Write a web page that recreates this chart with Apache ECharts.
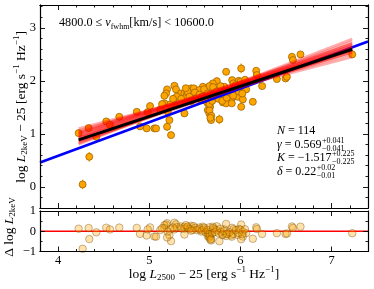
<!DOCTYPE html>
<html><head><meta charset="utf-8">
<script src="https://cdn.jsdelivr.net/npm/echarts@6/dist/echarts.min.js"></script>
<style>html,body{margin:0;padding:0;background:#fff}#c{width:374px;height:289px}</style>
</head><body><div id="c"></div>
<script>
// ---- data ----
const logL2500 = [4.224,4.334,4.418,4.527,4.568,4.670,4.862,4.898,4.971,5.008,4.982,4.341,4.268,
5.275,5.195,5.184,5.293,5.165,5.348,5.385,5.414,5.458,5.488,5.165,5.275,5.231,5.121,5.385,5.477,5.385,5.202,5.220,5.055,5.074,5.238,5.195,
5.843,6.008,6.173,6.180,5.909,5.923,5.982,5.824,5.741,5.697,5.659,5.587,5.549,6.026,6.063,5.604,5.714,5.788,5.862,5.898,5.971,6.026,5.807,5.843,5.905,5.642,5.642,5.667,5.642,5.659,5.678,5.769,6.136,6.008,5.568,
7.227,6.659,6.565,6.576,6.400,6.495,6.510,6.238,
5.30,5.35,5.42,5.44,5.50,5.52,5.55,5.58,5.60,5.62,5.64,5.66,5.66,5.68,5.69,5.70,5.72,5.74,5.76,5.78,5.80,5.82,5.85,5.88,5.92,5.95,5.98,6.00,6.02,5.26,5.14,5.46,5.40,5.67,6.05];
const logL2keV = [1.013,1.108,0.943,1.234,1.170,1.321,1.415,1.140,1.102,1.523,1.409,0.566,0.045,
1.906,1.838,1.762,1.838,1.717,1.762,1.762,1.749,1.857,1.857,1.574,1.574,1.555,1.460,1.668,1.668,1.385,1.415,1.258,1.102,1.102,0.975,1.132,
2.170,2.234,2.189,2.108,2.013,1.951,2.000,1.887,1.994,1.951,1.900,1.887,1.825,1.887,1.838,1.762,1.825,1.730,1.698,1.636,1.698,1.649,1.592,1.574,1.574,1.668,1.574,1.509,1.447,1.385,1.258,1.272,1.604,1.509,1.636,
2.498,2.498,2.453,2.391,2.032,2.045,2.075,1.900,
1.70,1.66,1.80,1.70,1.78,1.68,1.74,1.70,1.84,1.62,1.76,1.56,1.44,1.34,1.62,1.88,1.70,1.80,1.66,1.90,1.62,1.80,1.68,1.78,1.72,1.92,1.80,1.98,1.76,1.66,1.56,1.62,1.86,1.30,2.02];
const errL2keV = [0.04,0.04,0.04,0.04,0.04,0.04,0.04,0.04,0.04,0.04,0.04,0.09,0.09,
0.04,0.04,0.04,0.04,0.04,0.04,0.04,0.04,0.04,0.04,0.04,0.04,0.04,0.04,0.04,0.04,0.04,0.04,0.04,0.04,0.04,0.04,0.08,
0.04,0.09,0.04,0.04,0.04,0.04,0.04,0.04,0.04,0.04,0.04,0.04,0.04,0.04,0.04,0.04,0.04,0.04,0.04,0.04,0.04,0.04,0.04,0.07,0.04,0.04,0.04,0.04,0.04,0.04,0.04,0.09,0.04,0.04,0.04,
0.04,0.04,0.04,0.04,0.04,0.04,0.04,0.04,
0.04,0.04,0.04,0.04,0.04,0.04,0.04,0.04,0.04,0.04,0.04,0.04,0.04,0.04,0.04,0.04,0.04,0.04,0.04,0.04,0.04,0.04,0.04,0.04,0.04,0.04,0.04,0.04,0.04,0.04,0.04,0.04,0.04,0.04,0.04];
const residual = [0.127,0.159,-0.054,0.175,0.088,0.181,0.165,-0.130,-0.210,0.190,0.091,-0.387,-0.866,
0.422,0.399,0.329,0.343,0.295,0.236,0.215,0.185,0.268,0.251,0.152,0.090,0.096,0.063,0.121,0.069,-0.162,-0.028,-0.195,-0.257,-0.268,-0.488,-0.307,
0.362,0.332,0.194,0.109,0.168,0.098,0.113,0.090,0.244,0.226,0.197,0.225,0.184,-0.025,-0.095,0.090,0.091,-0.046,-0.120,-0.203,-0.182,-0.263,-0.195,-0.234,-0.269,-0.025,-0.119,-0.199,-0.246,-0.318,-0.456,-0.494,-0.370,-0.393,-0.015,
-0.097,0.226,0.235,0.166,-0.093,-0.134,-0.112,-0.132,
0.201,0.133,0.233,0.122,0.167,0.056,0.099,0.042,0.171,-0.061,0.068,-0.144,-0.264,-0.375,-0.101,0.154,-0.038,0.051,-0.100,0.128,-0.163,0.005,-0.132,-0.049,-0.132,0.051,-0.086,0.083,-0.148,0.184,0.152,0.030,0.304,-0.409,0.095];
const fitX = [4.224, 7.227];
const fitY = [0.886, 2.595];
const refX = [3.8, 7.4];
const refY = [0.46, 2.74];
const sampleLeftY  = [1.10,1.06,1.02,0.99,0.96,0.93,0.90,0.87,0.84,0.82,0.80,1.00,0.95,0.92,1.04,0.86];
const sampleRightY = [2.45,2.50,2.54,2.57,2.60,2.62,2.64,2.67,2.70,2.74,2.79,2.65,2.70,2.55,2.60,2.58];
const xRange = [3.8, 7.4];
const yTopRange = [-0.4, 3.43];
const yBotRange = [-1, 1];
const xMajor = [4,5,6,7];
const xMinor = [3.8,4.2,4.4,4.6,4.8,5.2,5.4,5.6,5.8,6.2,6.4,6.6,6.8,7.2,7.4];
const yTopMajor = [0,1,2,3];
const yTopMinor = [-0.4,-0.2,0.2,0.4,0.6,0.8,1.2,1.4,1.6,1.8,2.2,2.4,2.6,2.8,3.2,3.4];
const yBotMajor = [-1,0,1];
const yBotMinor = [-0.5,0.5];
const binText = ['4800.0', '10600.0'];
const stats = {N:'114', gamma:['0.569','+0.041','−0.041'], K:['−1.517','+0.225','−0.225'], delta:['0.22','+0.02','−0.01']};

// ---- chart ----
const FF = '"Liberation Serif","Times New Roman",serif';
const chart = echarts.init(document.getElementById('c'), null, {renderer:'canvas'});
const cv = document.createElement('canvas').getContext('2d');
function tw(t, size, it){ cv.font = (it?'italic ':'') + size + 'px ' + FF; return cv.measureText(t).width; }
const fmt = v => (v < 0 ? '−' + (-v) : String(v));

function xAx(grid, pos, ticks, len, labels){
  return {type:'value', gridIndex:grid, position:pos, min:xRange[0], max:xRange[1],
    axisLine:{show:true, onZero:false, lineStyle:{color:'#000', width:1.1}},
    axisTick:{show:true, inside:true, length:len, customValues:ticks, lineStyle:{color:'#000', width:0.9}},
    axisLabel:{show:!!labels, customValues:ticks, formatter:fmt, color:'#000', fontFamily:FF, fontSize:12.5, margin:3},
    splitLine:{show:false}, z:20};
}
function yAx(grid, pos, range, ticks, len, labels){
  return {type:'value', gridIndex:grid, position:pos, min:range[0], max:range[1],
    axisLine:{show:true, onZero:false, lineStyle:{color:'#000', width:1.1}},
    axisTick:{show:true, inside:true, length:len, customValues:ticks, lineStyle:{color:'#000', width:0.9}},
    axisLabel:{show:!!labels, customValues:ticks, formatter:fmt, color:'#000', fontFamily:FF, fontSize:12.5, margin:4},
    splitLine:{show:false}, z:20};
}
const xAxes = [
  xAx(0,'bottom',xMajor,5,false), xAx(0,'bottom',xMinor,2.5,false),
  xAx(0,'top',xMajor,5,false), xAx(0,'top',xMinor,2.5,false),
  xAx(1,'bottom',xMajor,5,true), xAx(1,'bottom',xMinor,2.5,false),
  xAx(1,'top',xMajor,5,false), xAx(1,'top',xMinor,2.5,false)
];
const yAxes = [
  yAx(0,'left',yTopRange,yTopMajor,5,true), yAx(0,'left',yTopRange,yTopMinor,2.5,false),
  yAx(0,'right',yTopRange,yTopMajor,5,false), yAx(0,'right',yTopRange,yTopMinor,2.5,false),
  yAx(1,'left',yBotRange,yBotMajor,5,true), yAx(1,'left',yBotRange,yBotMinor,2.5,false),
  yAx(1,'right',yBotRange,yBotMajor,5,false), yAx(1,'right',yBotRange,yBotMinor,2.5,false)
];

const pts = logL2500.map((x,i)=>[x, logL2keV[i], errL2keV[i]]);
const res = logL2500.map((x,i)=>[x, residual[i]]);

const series = [];
series.push({type:'custom', xAxisIndex:0, yAxisIndex:0, data:pts, z:2, animation:false,
  renderItem:(p, api)=>{
    const x=api.value(0), y=api.value(1), e=api.value(2);
    const a=api.coord([x,y-e]), b=api.coord([x,y+e]);
    return {type:'line', shape:{x1:a[0],y1:a[1],x2:b[0],y2:b[1]}, style:{stroke:'#FFA500', lineWidth:1.5}};
  }});
series.push({type:'scatter', xAxisIndex:0, yAxisIndex:0, data:pts.map(p=>[p[0],p[1]]), symbolSize:7, z:3,
  itemStyle:{color:'#FFA500', borderColor:'#a06400', borderWidth:0.8, opacity:1}, animation:false});
series.push({type:'line', xAxisIndex:0, yAxisIndex:0, data:[[refX[0],refY[0]],[refX[1],refY[1]]],
  symbol:'none', lineStyle:{color:'#0000ff', width:2.6}, z:4, silent:true, animation:false});
sampleLeftY.forEach((l,k)=>{
  series.push({type:'line', xAxisIndex:0, yAxisIndex:0, data:[[fitX[0],l],[fitX[1],sampleRightY[k]]],
    symbol:'none', lineStyle:{color:'rgba(255,0,0,0.32)', width:2.6}, z:5, silent:true, animation:false});
});
series.push({type:'line', xAxisIndex:0, yAxisIndex:0, data:[[fitX[0],fitY[0]],[fitX[1],fitY[1]]],
  symbol:'none', lineStyle:{color:'#000', width:3}, z:6, silent:true, animation:false});
series.push({type:'line', xAxisIndex:4, yAxisIndex:4, data:[[xRange[0],0],[xRange[1],0]], symbol:'none',
  lineStyle:{color:'#ff0000', width:1.6}, z:2, silent:true, animation:false});
series.push({type:'scatter', xAxisIndex:4, yAxisIndex:4, data:res, symbolSize:7.5, z:5,
  itemStyle:{color:'rgba(255,165,0,0.4)', borderColor:'rgba(110,70,0,0.6)', borderWidth:0.8}, animation:false});

// texts
const S = 13.5, SS = 9;
const richBase = {
  i:{fontStyle:'italic', fontFamily:FF, fontSize:S, lineHeight:17},
  n:{fontFamily:FF, fontSize:S, lineHeight:17},
  sub:{fontFamily:FF, fontSize:SS, lineHeight:9, verticalAlign:'bottom'},
  sup:{fontFamily:FF, fontSize:SS, lineHeight:9, verticalAlign:'top'}
};
function label(x, y, text, rot){
  return {type:'text', x:x, y:y, rotation:rot||0, z:50,
    style:{text:text, rich:richBase, align:'center', verticalAlign:'middle', fill:'#000', font:S+'px '+FF}};
}
const graphics = [
  label(204, 274, '{n|log }{i|L}{sub|2500}{n| − 25 [erg s}{sup|−1}{n| Hz}{sup|−1}{n|]}'),
  label(21, 107, '{n|log }{i|L}{sub|2keV}{n| − 25 [erg s}{sup|−1}{n| Hz}{sup|−1}{n|]}', Math.PI/2),
  label(9, 227, '{n|Δ log }{i|L}{sub|2keV}', Math.PI/2)
];
const T = 12, TS = 8;
const richT = {
  i:{fontStyle:'italic', fontFamily:FF, fontSize:T, lineHeight:15},
  n:{fontFamily:FF, fontSize:T, lineHeight:15},
  sub:{fontFamily:FF, fontSize:TS, lineHeight:8, verticalAlign:'bottom'}
};
const B = 12.2, BS = 8;
const richB = {
  i:{fontStyle:'italic', fontFamily:FF, fontSize:B, lineHeight:15},
  n:{fontFamily:FF, fontSize:B, lineHeight:15},
  sub:{fontFamily:FF, fontSize:BS, lineHeight:7, verticalAlign:'bottom'}
};
graphics.push({type:'text', x:59, y:23, z:50, style:{text:'{n|'+binText[0]+' ≤ }{i|v}{sub|fwhm}{n|[km/s] < '+binText[1]+'}', rich:richB,
  align:'left', verticalAlign:'middle', fill:'#000', font:B+'px '+FF}});
const sx = 277;
graphics.push({type:'text', x:sx, y:131, z:50, style:{text:'{i|N}{n| = '+stats.N+'}', rich:richT, align:'left', verticalAlign:'middle', fill:'#000', font:T+'px '+FF}});
function statLine(sym, vals, y){
  const w = tw(sym, T, true) + tw(' = ' + vals[0], T, false);
  graphics.push({type:'text', x:sx, y:y, z:50, style:{text:'{i|'+sym+'}{n| = '+vals[0]+'}', rich:richT, align:'left', verticalAlign:'middle', fill:'#000', font:T+'px '+FF}});
  graphics.push({type:'text', x:sx+w+0.5, y:y-4, z:50, style:{text:vals[1], align:'left', verticalAlign:'middle', fill:'#000', font:TS+'px '+FF}});
  graphics.push({type:'text', x:sx+w+0.5, y:y+4.5, z:50, style:{text:vals[2], align:'left', verticalAlign:'middle', fill:'#000', font:TS+'px '+FF}});
}
statLine('γ', stats.gamma, 144.5);
statLine('K', stats.K, 157.5);
statLine('δ', stats.delta, 171.5);

chart.setOption({
  animation:false,
  backgroundColor:'#fff',
  grid:[{left:40, right:6, top:5, height:203}, {left:40, right:6, top:211, height:40.5}],
  xAxis:xAxes, yAxis:yAxes, series:series, graphic:graphics
});
</script></body></html>
